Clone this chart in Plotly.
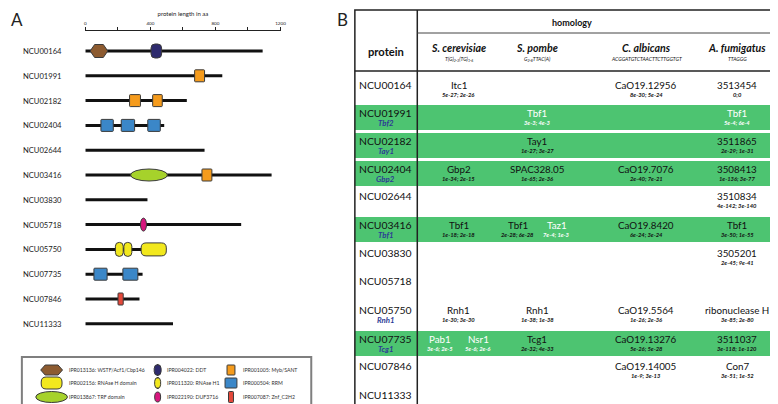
import plotly.graph_objects as go

W, H = 778, 404
FONT = "Lato"

# ---------------- data: panel A ----------------
proteins = ["NCU00164", "NCU01991", "NCU02182", "NCU02404", "NCU02644", "NCU03416",
            "NCU03830", "NCU05718", "NCU05750", "NCU07735", "NCU07846", "NCU11333"]
lengths_aa = [1090, 842, 624, 485, 733, 1145, 382, 958, 490, 352, 333, 539]

dom_protein = ["NCU00164", "NCU00164", "NCU01991", "NCU02182", "NCU02182",
               "NCU02404", "NCU02404", "NCU02404", "NCU03416", "NCU03416",
               "NCU05718", "NCU05750", "NCU05750", "NCU05750",
               "NCU07735", "NCU07735", "NCU07846"]
dom_type = ["WSTF", "DDT", "Myb", "Myb", "Myb",
            "RRM", "RRM", "RRM", "TRF", "Myb",
            "DUF3716", "RNaseH1", "RNaseH1", "RNaseH",
            "RRM", "RRM", "ZnF"]
dom_start = [30, 404, 672, 272, 414, 96, 221, 384, 278, 717, 339, 185, 237, 343, 53, 231, 201]
dom_end = [138, 469, 733, 339, 473, 172, 303, 461, 505, 778, 376, 233, 286, 498, 134, 323, 233]

axis_ticks = [0, 400, 800, 1200]

legend_types = ["WSTF", "RNaseH", "TRF", "DDT", "RNaseH1", "DUF3716", "Myb", "RRM", "ZnF"]
legend_labels = ["IPR013136: WSTF/Acf1/Cbp146", "IPR002156: RNAse H domain", "IPR013867: TRF domain",
                 "IPR004022: DDT", "IPR011320: RNAse H1", "IPR022190: DUF3716",
                 "IPR001005: Myb/SANT", "IPR000504: RRM", "IPR007087: Znf_C2H2"]

# ---------------- data: panel B ----------------
species = ["S. cerevisiae", "S. pombe", "C. albicans", "A. fumigatus"]
telomere_repeats = ["T(G)<sub>2-3</sub>(TG)<sub>1-6</sub>", "G<sub>2-8</sub>TTAC(A)",
                    "ACGGATGTCTAACTTCTTGGTGT", "TTAGGG"]
gene_names = ["", "Tbf2", "Tay1", "Gbp2", "", "Tbf1", "", "", "Rnh1", "Tcg1", "", ""]
highlighted = [False, True, True, True, False, True, False, False, False, True, False, False]

hit_protein = ["NCU00164", "NCU00164", "NCU00164",
               "NCU01991", "NCU01991",
               "NCU02182", "NCU02182",
               "NCU02404", "NCU02404", "NCU02404", "NCU02404",
               "NCU02644",
               "NCU03416", "NCU03416", "NCU03416", "NCU03416", "NCU03416",
               "NCU03830",
               "NCU05750", "NCU05750", "NCU05750", "NCU05750",
               "NCU07735", "NCU07735", "NCU07735", "NCU07735", "NCU07735",
               "NCU07846", "NCU07846"]
hit_species = ["S. cerevisiae", "C. albicans", "A. fumigatus",
               "S. pombe", "A. fumigatus",
               "S. pombe", "A. fumigatus",
               "S. cerevisiae", "S. pombe", "C. albicans", "A. fumigatus",
               "A. fumigatus",
               "S. cerevisiae", "S. pombe", "S. pombe", "C. albicans", "A. fumigatus",
               "A. fumigatus",
               "S. cerevisiae", "S. pombe", "C. albicans", "A. fumigatus",
               "S. cerevisiae", "S. cerevisiae", "S. pombe", "C. albicans", "A. fumigatus",
               "C. albicans", "A. fumigatus"]
hit_name = ["Itc1", "CaO19.12956", "3513454",
            "Tbf1", "Tbf1",
            "Tay1", "3511865",
            "Gbp2", "SPAC328.05", "CaO19.7076", "3508413",
            "3510834",
            "Tbf1", "Tbf1", "Taz1", "CaO19.8420", "Tbf1",
            "3505201",
            "Rnh1", "Rnh1", "CaO19.5564", "ribonuclease H",
            "Pab1", "Nsr1", "Tcg1", "CaO19.13276", "3511037",
            "CaO19.14005", "Con7"]
hit_evalue = ["5e-27; 2e-26", "8e-30; 5e-24", "0;0",
              "3e-3; 4e-3", "5e-4; 6e-4",
              "1e-27; 3e-27", "2e-29; 1e-31",
              "1e-34; 2e-15", "1e-65; 2e-36", "2e-40; 7e-21", "1e-136; 3e-77",
              "4e-142; 3e-140",
              "1e-18; 2e-18", "2e-28; 6e-28", "7e-4; 1e-3", "6e-24; 3e-24", "3e-50; 1e-55",
              "2e-45; 9e-41",
              "1e-30; 3e-30", "1e-38; 1e-38", "1e-26; 2e-36", "3e-85; 2e-80",
              "3e-6; 2e-5", "5e-6; 2e-6", "2e-32; 4e-33", "5e-26; 5e-28", "3e-118; 1e-120",
              "1e-9; 3e-13", "3e-51; 1e-52"]
hit_weak = [False, False, False,
            True, True,
            False, False,
            False, False, False, False,
            False,
            False, False, True, False, False,
            False,
            False, False, False, False,
            True, True, False, False, False,
            False, False]

# ---------------- styles / layout constants ----------------
DOM_STYLE = {  # kind, fill, height px, corner radius px
    "WSTF": ("hex", "#8d5b30", 13, 0),
    "DDT": ("round", "#2e2b6e", 14, 4),
    "Myb": ("round", "#f59b1c", 12, 0.8),
    "RRM": ("round", "#3b87c8", 12, 0.8),
    "TRF": ("ellipse", "#a6d22b", 12, 0),
    "RNaseH": ("round", "#f2e81d", 13, 5),
    "RNaseH1": ("round", "#f2e81d", 14, 3.8),
    "DUF3716": ("ellipse", "#d8167e", 13, 0),
    "ZnF": ("round", "#e4483a", 12, 0.8),
}
OUTLINE = "#3a3a3a"

AX0, AX1 = 77, 274          # px of 0 and 1200 aa
PX_PER_AA = (AX1 - AX0) / 1200.0
ROW0, ROW_STEP = 43, 24.8    # px of first row, row spacing
A_TOP, A_BOT = 22.7, 335
yr_top = (A_TOP - ROW0) / ROW_STEP
yr_bot = (A_BOT - ROW0) / ROW_STEP

fig = go.Figure()
shapes = []
annotations = []


def shape_path(kind, x0, x1, yc, hh, rx, ry, hexdx=0):
    y0, y1 = yc - hh, yc + hh
    if kind == "hex":
        return (f"M {x0},{yc} L {x0+hexdx},{y0} L {x1-hexdx},{y0} L {x1},{yc} "
                f"L {x1-hexdx},{y1} L {x0+hexdx},{y1} Z")
    return (f"M {x0+rx},{y0} L {x1-rx},{y0} Q {x1},{y0} {x1},{y0+ry} "
            f"L {x1},{y1-ry} Q {x1},{y1} {x1-rx},{y1} L {x0+rx},{y1} "
            f"Q {x0},{y1} {x0},{y1-ry} L {x0},{y0+ry} Q {x0},{y0} {x0+rx},{y0} Z")


def add_domain(dtype, x0, x1, yc, sx, sy, xref, yref, h_override=None):
    kind, fill, hpx, rpx = DOM_STYLE[dtype]
    if h_override is not None:
        hpx = h_override
    hh = hpx / 2.0 * sy
    common = dict(xref=xref, yref=yref, fillcolor=fill,
                  line=dict(color=OUTLINE, width=1), layer="above")
    if kind == "ellipse":
        shapes.append(dict(type="circle", x0=x0, x1=x1, y0=yc - hh, y1=yc + hh, **common))
    else:
        rx, ry = rpx * sx, rpx * sy
        path = shape_path(kind, x0, x1, yc, hh, rx, ry, hexdx=4.5 * sx)
        shapes.append(dict(type="path", path=path, **common))


# ---------------- panel A ----------------
row_index = {p: i for i, p in enumerate(proteins)}
lx, ly = [], []
for i, L in enumerate(lengths_aa):
    lx += [0, L, None]
    ly += [i, i, None]
fig.add_trace(go.Scatter(x=lx, y=ly, mode="lines", line=dict(color="#111111", width=3),
                         hoverinfo="skip", showlegend=False, xaxis="x", yaxis="y"))

for p, t, s, e in zip(dom_protein, dom_type, dom_start, dom_end):
    add_domain(t, s, e, row_index[p], 1 / PX_PER_AA, 1 / ROW_STEP, "x", "y")

for i, p in enumerate(proteins):
    annotations.append(dict(x=12 / W, y=i, xref="paper", yref="y", text=p, showarrow=False,
                            xanchor="left", yanchor="middle",
                            font=dict(family=FONT, size=7.6, color="#1a1a1a")))

annotations.append(dict(x=1, y=0, xref="x2", yref="y2", text="A", showarrow=False,
                        xanchor="left", yanchor="top", borderpad=0,
                        font=dict(family=FONT, size=17, color="#222222")))

# legend box (pixel axes x2/y2)
LEG_X0, LEG_X1, LEG_Y0, LEG_Y1 = 13, 305, 349, 401
shapes.append(dict(type="rect", xref="x2", yref="y2", x0=LEG_X0, x1=LEG_X1, y0=LEG_Y0, y1=LEG_Y1,
                   line=dict(color="#7f7f7f", width=2), fillcolor="rgba(0,0,0,0)", layer="below"))
leg_sym_x = [43, 150, 224]
leg_txt_x = [59, 157, 234]
leg_row_y = [362, 375, 389]
leg_sym_w = {"WSTF": 22, "RNaseH": 21, "TRF": 32, "DDT": 7, "RNaseH1": 6, "DUF3716": 6,
             "Myb": 8, "RRM": 12, "ZnF": 5}
leg_sym_h = {"WSTF": 10, "RNaseH": 12, "TRF": 11, "DDT": 11, "RNaseH1": 11, "DUF3716": 10,
             "Myb": 10, "RRM": 10, "ZnF": 11}
for k, (t, lab) in enumerate(zip(legend_types, legend_labels)):
    c, r = k // 3, k % 3
    xc, yc = leg_sym_x[c], leg_row_y[r]
    w = leg_sym_w[t]
    add_domain(t, xc - w / 2, xc + w / 2, yc, 1, 1, "x2", "y2", h_override=leg_sym_h[t])
    annotations.append(dict(x=leg_txt_x[c], y=yc, xref="x2", yref="y2", text=lab, showarrow=False,
                            xanchor="left", yanchor="middle",
                            font=dict(family=FONT, size=5.2, color="#333333")))

# ---------------- panel B ----------------
TB_X0, TB_X1, TB_Y0, TB_Y1 = 349, 776, 2, 403
SEP_X = 412
HDR_Y = 63
HOM_Y = 25
GREEN = "#4dc471"
col_center = [454, 533, 643, 735]
PROT_X = 380
row_text_y = [77, 105, 133, 161, 188, 217, 245, 273, 302, 331, 358, 387]
SUB_DY = 9
GENE_DY = 9.5
SLOT_GAP = 39

annotations.append(dict(x=330, y=0, xref="x2", yref="y2", text="B", showarrow=False,
                        xanchor="left", yanchor="top", borderpad=0,
                        font=dict(family=FONT, size=17, color="#222222")))

for i, hl in enumerate(highlighted):
    if hl:
        y = row_text_y[i]
        shapes.append(dict(type="rect", xref="x2", yref="y2", x0=TB_X0, x1=TB_X1,
                           y0=y - 8, y1=y + 17, fillcolor=GREEN, line=dict(width=0), layer="below"))

# table lines
shapes.append(dict(type="rect", xref="x2", yref="y2", x0=TB_X0, x1=TB_X1, y0=TB_Y0, y1=TB_Y1,
                   line=dict(color="#222222", width=1.5), fillcolor="rgba(0,0,0,0)", layer="above"))
shapes.append(dict(type="line", xref="x2", yref="y2", x0=SEP_X, x1=SEP_X, y0=TB_Y0, y1=TB_Y1,
                   line=dict(color="#222222", width=1.5), layer="above"))
shapes.append(dict(type="line", xref="x2", yref="y2", x0=TB_X0, x1=TB_X1, y0=HDR_Y, y1=HDR_Y,
                   line=dict(color="#222222", width=1.5), layer="above"))
shapes.append(dict(type="line", xref="x2", yref="y2", x0=SEP_X, x1=TB_X1, y0=HOM_Y, y1=HOM_Y,
                   line=dict(color="#444444", width=1), layer="above"))


def txt(x, y, s, size, color="#111111", anchor="center"):
    annotations.append(dict(x=x, y=y, xref="x2", yref="y2", text=s, showarrow=False,
                            xanchor=anchor, yanchor="middle",
                            font=dict(family=FONT, size=size, color=color)))


txt(PROT_X, 43, "<b>protein</b>", 11.2)
txt(568, 14, "<b>homology</b>", 9)
for c, (sp, rep) in enumerate(zip(species, telomere_repeats)):
    txt(col_center[c], 40, f"<b><i>{sp}</i></b>", 10.6)
    txt(col_center[c], 51, f"<i>{rep}</i>", 5.1)

for i, p in enumerate(proteins):
    y = row_text_y[i]
    txt(PROT_X, y - 0.5, p, 10.4)
    if gene_names[i]:
        txt(PROT_X, y + GENE_DY, f"<b><i>{gene_names[i]}</i></b>", 7.8, color="#2c3b95")

# place hits, with slots for multiple hits in a cell
cell_count = {}
for p, sp in zip(hit_protein, hit_species):
    cell_count[(p, sp)] = cell_count.get((p, sp), 0) + 1
cell_seen = {}
for p, sp, nm, ev, weak in zip(hit_protein, hit_species, hit_name, hit_evalue, hit_weak):
    n = cell_count[(p, sp)]
    k = cell_seen.get((p, sp), 0)
    cell_seen[(p, sp)] = k + 1
    x = col_center[species.index(sp)] + (k - (n - 1) / 2) * SLOT_GAP
    y = row_text_y[row_index[p]]
    col = "#ffffff" if weak else "#111111"
    txt(x, y - 0.5, nm, 9.8, color=col)
    txt(x, y + SUB_DY, f"<b><i>{ev}</i></b>", 5.8, color=col)

fig.update_layout(
    width=W, height=H, margin=dict(l=0, r=0, t=0, b=0),
    paper_bgcolor="white", plot_bgcolor="rgba(0,0,0,0)",
    showlegend=False, shapes=shapes, annotations=annotations,
    xaxis=dict(domain=[AX0 / W, AX1 / W], range=[0, 1200], side="top", anchor="y",
               showgrid=False, zeroline=False, showline=True, linecolor="#222222", linewidth=1,
               tickvals=axis_ticks, ticks="outside", ticklen=3, tickwidth=1, tickcolor="#222222",
               minor=dict(dtick=200, ticks="outside", ticklen=3, tickwidth=1, tickcolor="#222222"),
               tickfont=dict(family=FONT, size=4.6, color="#222222"),
               title=dict(text="protein length in aa", font=dict(family=FONT, size=6, color="#222222"),
                          standoff=2)),
    yaxis=dict(domain=[(H - A_BOT) / H, (H - A_TOP) / H], range=[yr_bot, yr_top], visible=False,
               anchor="x"),
    xaxis2=dict(domain=[0, 1], range=[0, W], visible=False, anchor="y2"),
    yaxis2=dict(domain=[0, 1], range=[H, 0], visible=False, anchor="x2"),
)
fig.add_trace(go.Scatter(x=[None], y=[None], xaxis="x2", yaxis="y2", showlegend=False))

fig.write_html("out.html")
